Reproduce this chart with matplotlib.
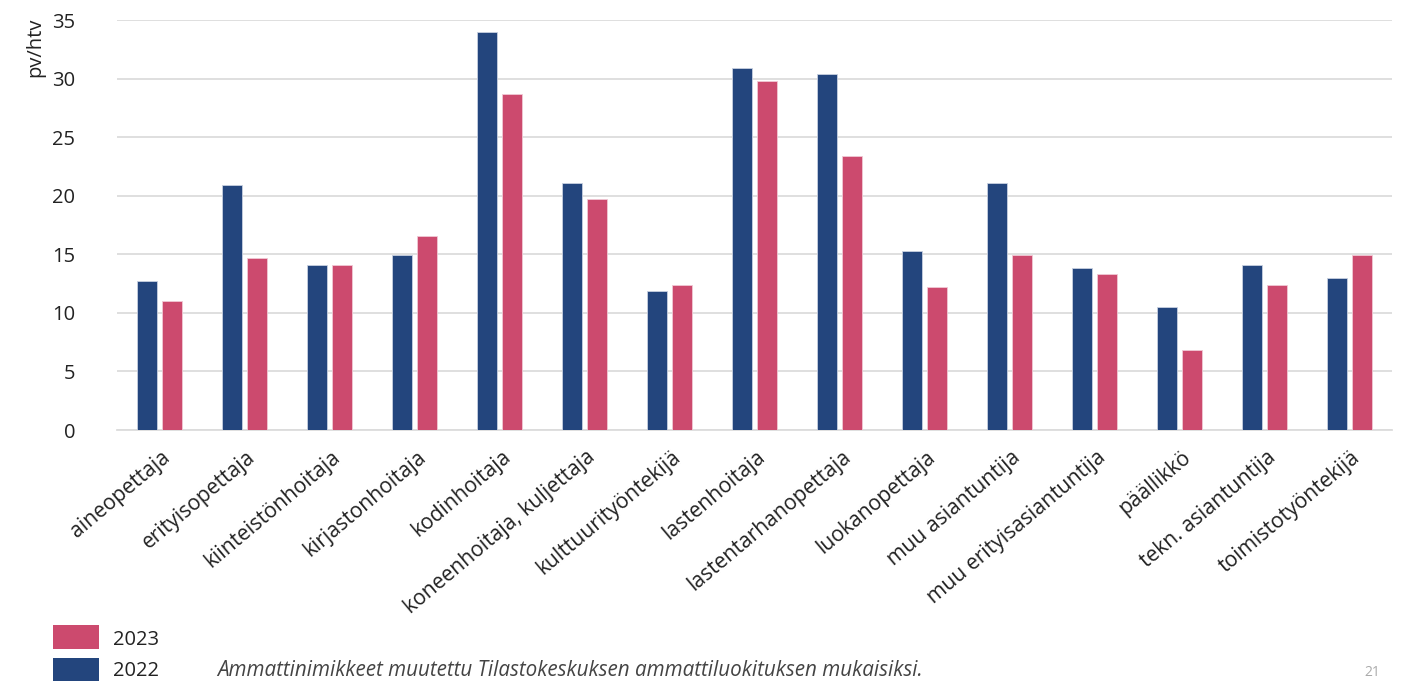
import numpy as np
import matplotlib
matplotlib.use("Agg")
import matplotlib.pyplot as plt
from matplotlib.patches import Rectangle

plt.rcParams['font.family'] = ['Open Sans', 'DejaVu Sans']

# data (pv/htv)
categories = ['aineopettaja', 'erityisopettaja', 'kiinteistönhoitaja', 'kirjastonhoitaja',
              'kodinhoitaja', 'koneenhoitaja, kuljettaja', 'kulttuurityöntekijä',
              'lastenhoitaja', 'lastentarhanopettaja', 'luokanopettaja', 'muu asiantuntija',
              'muu erityisasiantuntija', 'päällikkö', 'tekn. asiantuntija', 'toimistotyöntekijä']
values_2022 = [12.7, 20.9, 14.1, 14.9, 34.0, 21.1, 11.9, 30.9, 30.4, 15.3, 21.1, 13.8, 10.5, 14.1, 13.0]
values_2023 = [11.0, 14.7, 14.1, 16.6, 28.7, 19.7, 12.4, 29.8, 23.4, 12.2, 14.9, 13.3, 6.8, 12.4, 14.9]
yticks = [0, 5, 10, 15, 20, 25, 30, 35]
note = 'Ammattinimikkeet muutettu Tilastokeskuksen ammattiluokituksen mukaisiksi.'

navy = '#23457d'
pink = '#cc4a6e'
text_col = '#222222'

W, H = 1405, 681
fig = plt.figure(figsize=(W / 100, H / 100), dpi=100)
ax = fig.add_axes([117 / W, 1 - 430 / H, (1392 - 117) / W, (430 - 20) / H])

x = np.arange(len(categories))
bw = 0.225
gap = 0.07
ax.bar(x - (bw + gap) / 2, values_2022, bw, color=navy, edgecolor='#c8d0e0', linewidth=0.6, zorder=3)
ax.bar(x + (bw + gap) / 2, values_2023, bw, color=pink, edgecolor='#f0c8d4', linewidth=0.6, zorder=3)

ax.set_xlim(-0.5, len(categories) - 0.5)
ax.set_ylim(0, 35)
ax.set_yticks(yticks)
ax.yaxis.grid(True, color='#dcdcdc', linewidth=1.3, zorder=0)
ax.set_axisbelow(True)
for s in ['top', 'right', 'left']:
    ax.spines[s].set_visible(False)
ax.spines['bottom'].set_color('#dcdcdc')
ax.spines['bottom'].set_linewidth(1.3)
ax.tick_params(axis='both', length=0, labelsize=14.5, colors=text_col)
ax.tick_params(axis='y', pad=30)
ax.set_xticks(x + 0.02)
ax.set_xticklabels(categories, rotation=40, ha='right', rotation_mode='anchor', fontsize=15.2)
ax.tick_params(axis='x', pad=12)

fig.text(35 / W, 1 - 47 / H, 'pv/htv', rotation=90, ha='center', va='center',
         fontsize=14.5, color=text_col)

# legend
fig.patches.append(Rectangle((53 / W, 1 - 649 / H), 46 / W, 24 / H, transform=fig.transFigure,
                             facecolor=pink, edgecolor='none'))
fig.patches.append(Rectangle((53 / W, 1 - 682 / H), 46 / W, 24 / H, transform=fig.transFigure,
                             facecolor=navy, edgecolor='none'))
fig.text(113 / W, 1 - 640 / H, '2023', ha='left', va='center', fontsize=14.5, color=text_col)
fig.text(113 / W, 1 - 671 / H, '2022', ha='left', va='center', fontsize=14.5, color=text_col)
fig.text(217 / W, 1 - 671 / H, note, ha='left', va='center', fontsize=14.9, style='italic',
         color='#444444')
fig.text(1372 / W, 1 / H, '21', ha='center', va='bottom', fontsize=10, color='#aaaaaa')

fig.savefig('out.png', dpi=100)
